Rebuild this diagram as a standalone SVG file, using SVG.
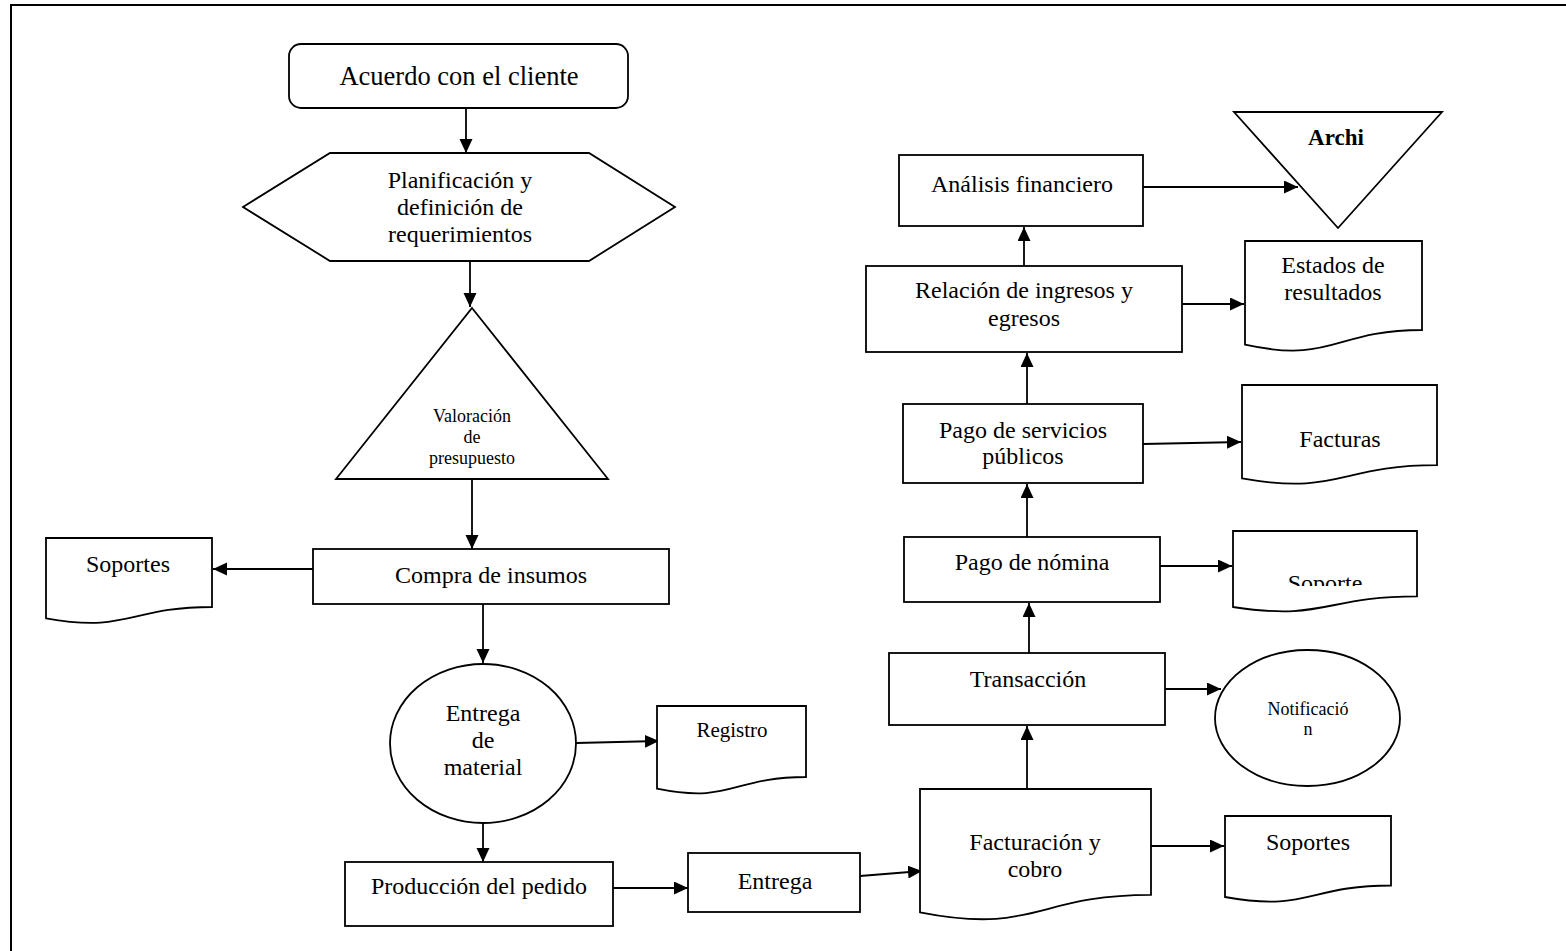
<svg xmlns="http://www.w3.org/2000/svg" width="1566" height="951" viewBox="0 0 1566 951">
<style>
.s{fill:#fff;stroke:#000;stroke-width:1.8}
.t{font-family:"Liberation Serif","Times New Roman",serif;font-size:24px;fill:#000;text-anchor:middle}
.sm{font-size:18px}
.c{stroke:#000;stroke-width:1.8;fill:none;marker-end:url(#ah)}
</style>
<defs>
<marker id="ah" markerUnits="userSpaceOnUse" markerWidth="15" markerHeight="14" refX="14" refY="6.5" orient="auto"><path d="M0,0 L14,6.5 L0,13 z" fill="#000"/></marker>
<clipPath id="clipSop"><rect x="1233" y="531" width="184" height="55"/></clipPath>
</defs>
<rect width="1566" height="951" fill="#fff"/>
<path d="M11,951 V5 H1566" fill="none" stroke="#000" stroke-width="2"/>
<g id="connectors">
<line class="c" x1="466" y1="109" x2="466" y2="153"/>
<line class="c" x1="470" y1="262" x2="470" y2="307"/>
<line class="c" x1="472" y1="479" x2="472" y2="549"/>
<line class="c" x1="313" y1="569" x2="213" y2="569"/>
<line class="c" x1="483" y1="604" x2="483" y2="663"/>
<line class="c" x1="576" y1="743" x2="659" y2="741"/>
<line class="c" x1="483" y1="823" x2="483" y2="862"/>
<line class="c" x1="613" y1="888" x2="688" y2="888"/>
<line class="c" x1="860" y1="876" x2="922" y2="871"/>
<line class="c" x1="1151" y1="846" x2="1224" y2="846"/>
<line class="c" x1="1027" y1="789" x2="1027" y2="726"/>
<line class="c" x1="1165" y1="689" x2="1221" y2="689"/>
<line class="c" x1="1029" y1="653" x2="1029" y2="603"/>
<line class="c" x1="1160" y1="566" x2="1232" y2="566"/>
<line class="c" x1="1027" y1="537" x2="1027" y2="484"/>
<line class="c" x1="1143" y1="444" x2="1241" y2="442"/>
<line class="c" x1="1027" y1="404" x2="1027" y2="353"/>
<line class="c" x1="1182" y1="304" x2="1244" y2="304"/>
<line class="c" x1="1024" y1="266" x2="1024" y2="227"/>
<line class="c" x1="1143" y1="187" x2="1298" y2="187"/>
</g>
<g id="acuerdo">
<rect class="s" x="289" y="44" width="339" height="64" rx="12"/>
<text class="t" x="459" y="85" style="font-size:26.5px">Acuerdo con el cliente</text>
</g>
<g id="planificacion">
<polygon class="s" points="243,207 330,153 589,153 675,207 589,261 330,261"/>
<text class="t" x="460" y="188">Planificación y</text>
<text class="t" x="460" y="215">definición de</text>
<text class="t" x="460" y="242">requerimientos</text>
</g>
<g id="valoracion">
<polygon class="s" points="472,308 608,479 336,479"/>
<text class="t sm" x="472" y="422">Valoración</text>
<text class="t sm" x="472" y="443">de</text>
<text class="t sm" x="472" y="464">presupuesto</text>
</g>
<g id="compra">
<rect class="s" x="313" y="549" width="356" height="55"/>
<text class="t" x="491" y="583">Compra de insumos</text>
</g>
<g id="soportes1">
<path class="s" d="M46,538 H212 V607 C129,607 129,633.2 46,618.3 Z"/>
<text class="t" x="128" y="572">Soportes</text>
</g>
<g id="entregaMaterial">
<ellipse class="s" cx="483" cy="743.5" rx="93" ry="79.5"/>
<text class="t" x="483" y="721">Entrega</text>
<text class="t" x="483" y="748">de</text>
<text class="t" x="483" y="775">material</text>
</g>
<g id="registro">
<path class="s" d="M657,706 H806 V777 C731.5,777 731.5,804 657,788.7 Z"/>
<text class="t" x="732" y="737" style="font-size:21px">Registro</text>
</g>
<g id="produccion">
<rect class="s" x="345" y="862" width="268" height="64"/>
<text class="t" x="479" y="894">Producción del pedido</text>
</g>
<g id="entrega">
<rect class="s" x="688" y="853" width="172" height="59"/>
<text class="t" x="775" y="889">Entrega</text>
</g>
<g id="facturacion">
<path class="s" d="M920,789 H1151 V894.9 C1035.5,894.9 1035.5,935.1 920,912.3 Z"/>
<text class="t" x="1035" y="850">Facturación y</text>
<text class="t" x="1035" y="877">cobro</text>
</g>
<g id="soportes2">
<path class="s" d="M1225,816 H1391 V885.5 C1308,885.5 1308,912 1225,897 Z"/>
<text class="t" x="1308" y="850">Soportes</text>
</g>
<g id="transaccion">
<rect class="s" x="889" y="653" width="276" height="72"/>
<text class="t" x="1028" y="687">Transacción</text>
</g>
<g id="notificacion">
<ellipse class="s" cx="1307.5" cy="718" rx="92.5" ry="68"/>
<text class="t sm" x="1308" y="715">Notificació</text>
<text class="t sm" x="1308" y="735">n</text>
</g>
<g id="pagoNomina">
<rect class="s" x="904" y="537" width="256" height="65"/>
<text class="t" x="1032" y="570">Pago de nómina</text>
</g>
<g id="soporte">
<path class="s" d="M1233,531 H1417 V596.3 C1325,596.3 1325,621.1 1233,607 Z"/>
<text class="t" x="1325" y="591" clip-path="url(#clipSop)">Soporte</text>
</g>
<g id="pagoServicios">
<rect class="s" x="903" y="404" width="240" height="79"/>
<text class="t" x="1023" y="438">Pago de servicios</text>
<text class="t" x="1023" y="464">públicos</text>
</g>
<g id="facturas">
<path class="s" d="M1242,385 H1437 V465.2 C1339.5,465.2 1339.5,495.7 1242,478.4 Z"/>
<text class="t" x="1340" y="447">Facturas</text>
</g>
<g id="relacion">
<rect class="s" x="866" y="266" width="316" height="86"/>
<text class="t" x="1024" y="298">Relación de ingresos y</text>
<text class="t" x="1024" y="326">egresos</text>
</g>
<g id="estados">
<path class="s" d="M1245,241 H1422 V330 C1333.5,330 1333.5,363.9 1245,344.7 Z"/>
<text class="t" x="1333" y="273">Estados de</text>
<text class="t" x="1333" y="300">resultados</text>
</g>
<g id="analisis">
<rect class="s" x="899" y="155" width="244" height="71"/>
<text class="t" x="1022" y="192">Análisis financiero</text>
</g>
<g id="archi">
<polygon class="s" points="1234,112 1442,112 1338,228"/>
<text class="t" x="1336" y="145" style="font-weight:bold;font-size:23px">Archi</text>
</g>
</svg>
